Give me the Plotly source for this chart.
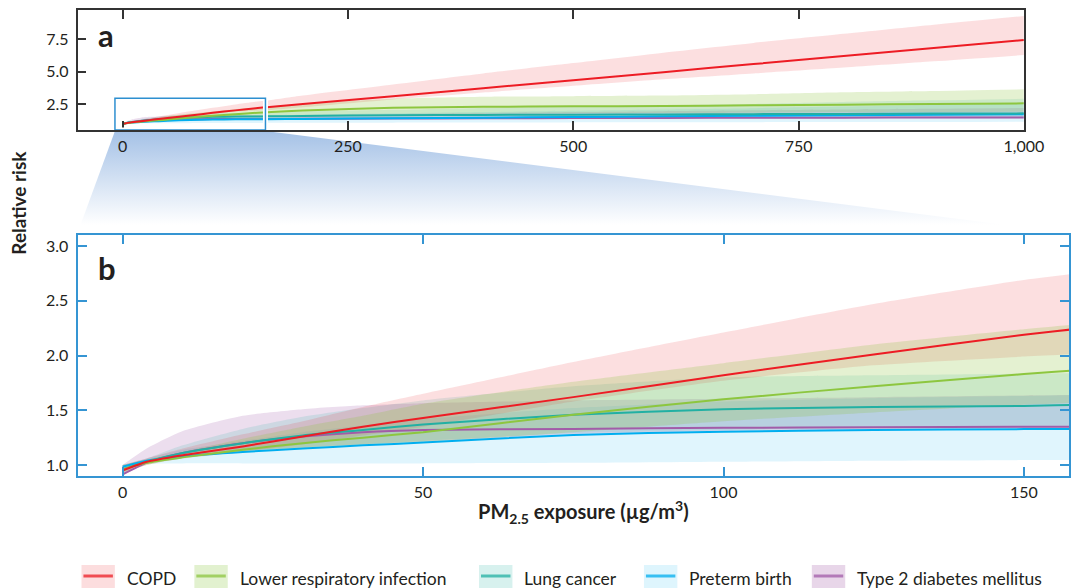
import plotly.graph_objects as go

W, H = 1090, 588

# ---------------- data ----------------
exposure = [0, 4, 10, 20, 30, 40, 50, 75, 100, 125, 150, 160, 200, 300, 400, 500, 600, 700, 800, 900, 1000]

copd_mean = [0.95, 1.03, 1.09, 1.17, 1.26, 1.35, 1.43, 1.62, 1.82, 2.01, 2.19, 2.25, 2.50, 3.10, 3.72, 4.33, 4.95, 5.57, 6.19, 6.80, 7.42]
copd_lo   = [0.92, 1.00, 1.06, 1.12, 1.19, 1.27, 1.35, 1.58, 1.77, 1.91, 1.99, 2.02, 2.25, 2.85, 3.38, 3.90, 4.40, 4.85, 5.30, 5.78, 6.27]
copd_hi   = [1.00, 1.06, 1.15, 1.28, 1.40, 1.53, 1.65, 1.94, 2.21, 2.47, 2.69, 2.76, 3.15, 4.00, 4.85, 5.65, 6.45, 7.20, 7.90, 8.60, 9.27]

lri_mean = [0.96, 1.02, 1.07, 1.14, 1.20, 1.25, 1.30, 1.46, 1.60, 1.72, 1.83, 1.87, 2.00, 2.22, 2.28, 2.32, 2.35, 2.40, 2.45, 2.50, 2.55]
lri_lo   = [0.93, 1.00, 1.07, 1.12, 1.155, 1.185, 1.21, 1.30, 1.40, 1.48, 1.55, 1.57, 1.62, 1.70, 1.74, 1.77, 1.80, 1.83, 1.86, 1.88, 1.90]
lri_hi   = [1.00, 1.05, 1.12, 1.24, 1.35, 1.45, 1.56, 1.76, 1.93, 2.10, 2.24, 2.29, 2.50, 2.90, 3.05, 3.10, 3.15, 3.25, 3.40, 3.50, 3.63]

lung_mean = [0.96, 1.03, 1.11, 1.20, 1.27, 1.32, 1.37, 1.46, 1.51, 1.53, 1.54, 1.55, 1.57, 1.64, 1.66, 1.68, 1.70, 1.72, 1.74, 1.76, 1.78]
lung_lo   = [0.93, 1.02, 1.08, 1.13, 1.16, 1.19, 1.22, 1.29, 1.32, 1.335, 1.34, 1.345, 1.37, 1.42, 1.44, 1.45, 1.46, 1.47, 1.48, 1.49, 1.50]
lung_hi   = [1.00, 1.06, 1.18, 1.33, 1.44, 1.52, 1.59, 1.72, 1.80, 1.82, 1.835, 1.84, 1.92, 2.05, 2.20, 2.30, 2.40, 2.50, 2.65, 2.78, 2.90]

preterm_mean = [0.985, 1.04, 1.08, 1.12, 1.15, 1.18, 1.205, 1.275, 1.305, 1.32, 1.328, 1.33, 1.35, 1.40, 1.45, 1.50, 1.55, 1.59, 1.63, 1.68, 1.72]
preterm_lo   = [0.97, 1.01, 1.015, 1.015, 1.015, 1.015, 1.015, 1.02, 1.03, 1.04, 1.045, 1.046, 1.05, 1.06, 1.07, 1.08, 1.09, 1.10, 1.11, 1.12, 1.14]
preterm_hi   = [1.00, 1.06, 1.14, 1.22, 1.30, 1.36, 1.42, 1.52, 1.58, 1.61, 1.63, 1.64, 1.68, 1.78, 1.88, 1.98, 2.08, 2.18, 2.30, 2.42, 2.55]

t2d_mean = [0.915, 1.02, 1.11, 1.20, 1.26, 1.30, 1.32, 1.33, 1.34, 1.345, 1.35, 1.35, 1.36, 1.38, 1.40, 1.42, 1.43, 1.44, 1.45, 1.46, 1.47]
t2d_lo   = [0.90, 1.02, 1.08, 1.13, 1.16, 1.19, 1.215, 1.28, 1.31, 1.325, 1.333, 1.335, 1.34, 1.35, 1.36, 1.37, 1.38, 1.385, 1.39, 1.395, 1.40]
t2d_hi   = [1.00, 1.15, 1.31, 1.45, 1.51, 1.545, 1.565, 1.59, 1.605, 1.62, 1.635, 1.64, 1.66, 1.72, 1.80, 1.88, 1.95, 2.02, 2.08, 2.14, 2.20]

series_names = ["COPD", "Lower respiratory infection", "Lung cancer", "Preterm birth", "Type 2 diabetes mellitus"]

top_xticks = [0, 250, 500, 750, 1000]
top_yticks = [2.5, 5.0, 7.5]
bot_xticks = [0, 50, 100, 150]
bot_yticks = [1.0, 1.5, 2.0, 2.5, 3.0]

# ---------------- styling ----------------
line_colors = ["#ed1c24", "#8dc63f", "#22b0a3", "#00aeef", "#a25ca8"]
fill_colors = ["rgba(237,28,36,0.14)", "rgba(141,198,63,0.24)", "rgba(34,176,163,0.15)",
               "rgba(0,174,239,0.12)", "rgba(162,92,168,0.20)"]
legend_fill = ["rgba(237,28,36,0.15)", "rgba(141,198,63,0.25)", "rgba(34,176,163,0.18)",
               "rgba(0,174,239,0.13)", "rgba(162,92,168,0.25)"]
series = {
    "COPD": (copd_mean, copd_lo, copd_hi),
    "Lower respiratory infection": (lri_mean, lri_lo, lri_hi),
    "Lung cancer": (lung_mean, lung_lo, lung_hi),
    "Preterm birth": (preterm_mean, preterm_lo, preterm_hi),
    "Type 2 diabetes mellitus": (t2d_mean, t2d_lo, t2d_hi),
}

FONT = "Lato, 'Open Sans', sans-serif"
TXT = "#231f20"
BLUE = "#3595d3"

# panel geometry (pixels)
top_l, top_r, top_t, top_b = 79, 1043, 10, 130
bot_l, bot_r, bot_t, bot_b = 79, 1089, 235, 476
top_xrange = [-50, 1000]
top_yrange = [0.5, 9.73]
bot_xrange = [-7.5, 157.5]
bot_yrange = [0.9, 3.1]
zoom_box = dict(x0=-8.5, x1=158.5, y0=0.5, y1=2.95)

fig = go.Figure()

# ---------------- connector gradient (drawn first, on a full-page overlay axis) ----------------
def top_px_x(v):
    return top_l + (v - top_xrange[0]) / (top_xrange[1] - top_xrange[0]) * (top_r - top_l)

cx = [top_px_x(zoom_box["x0"]), top_px_x(zoom_box["x1"]), bot_r, bot_l, top_px_x(zoom_box["x0"])]
cy_px = [top_b + 1, top_b + 1, bot_t - 2, bot_t - 2, top_b + 1]
cy = [H - v for v in cy_px]
fig.add_trace(go.Scatter(x=cx, y=cy, xaxis="x", yaxis="y", mode="lines",
                         line=dict(width=0), fill="toself",
                         fillgradient=dict(type="vertical",
                                           colorscale=[[0, "rgba(255,255,255,1)"], [0.08, "rgba(255,255,255,1)"],
                                                       [1, "rgb(164,193,230)"]]),
                         hoverinfo="skip", showlegend=False))

fill_order = [3, 4, 2, 0, 1]
line_order = [4, 3, 2, 1, 0]
for xa, ya in [("x2", "y2"), ("x3", "y3")]:
    for i in fill_order:
        name = series_names[i]
        mean, lo, hi = series[name]
        fig.add_trace(go.Scatter(x=exposure, y=lo, mode="lines", xaxis=xa, yaxis=ya,
                                 line=dict(width=0, shape="spline", smoothing=0.6),
                                 hoverinfo="skip", showlegend=False))
        fig.add_trace(go.Scatter(x=exposure, y=hi, mode="lines", xaxis=xa, yaxis=ya,
                                 line=dict(width=0, shape="spline", smoothing=0.6),
                                 fill="tonexty", fillcolor=fill_colors[i],
                                 hoverinfo="skip", showlegend=False))
    for i in line_order:
        name = series_names[i]
        mean, lo, hi = series[name]
        fig.add_trace(go.Scatter(x=exposure, y=mean, mode="lines", xaxis=xa, yaxis=ya, name=name,
                                 line=dict(color=line_colors[i], width=2, shape="spline", smoothing=0.6),
                                 showlegend=False))

axis_common = dict(showgrid=False, zeroline=False, ticks="inside", ticklen=9, tickwidth=1.5,
                   showline=True, tickfont=dict(family=FONT, size=16, color=TXT), fixedrange=True)

fig.update_layout(
    width=W, height=H, margin=dict(l=0, r=0, t=0, b=0),
    paper_bgcolor="white", plot_bgcolor="rgba(0,0,0,0)",
    showlegend=False,
    xaxis=dict(domain=[0, 1], range=[0, W], visible=False, fixedrange=True, anchor="y"),
    yaxis=dict(domain=[0, 1], range=[0, H], visible=False, fixedrange=True, anchor="x"),
    xaxis2=dict(axis_common, domain=[top_l / W, top_r / W], anchor="y2", range=top_xrange,
                tickvals=top_xticks, tickformat=",", linecolor="#333333", tickcolor="#333333",
                linewidth=1.5, mirror="ticks", ticklabelstandoff=1),
    yaxis2=dict(axis_common, domain=[1 - top_b / H, 1 - top_t / H], anchor="x2", range=top_yrange,
                tickvals=top_yticks, tickformat=".1f", linecolor="#333333", tickcolor="#333333",
                linewidth=1.5, mirror=True, ticklabelstandoff=4),
    xaxis3=dict(axis_common, domain=[bot_l / W, bot_r / W], anchor="y3", range=bot_xrange,
                tickvals=bot_xticks, linecolor=BLUE, tickcolor=BLUE, linewidth=2, mirror="ticks",
                ticklabelstandoff=1),
    yaxis3=dict(axis_common, domain=[1 - bot_b / H, 1 - bot_t / H], anchor="x3", range=bot_yrange,
                tickvals=bot_yticks, tickformat=".1f", linecolor=BLUE, tickcolor=BLUE, linewidth=2,
                mirror="ticks", ticklabelstandoff=4),
)

# zoom rectangle in panel a (white halo + blue outline)
fig.add_shape(type="rect", xref="x2", yref="y2", **zoom_box, line=dict(color="white", width=5), layer="above")
fig.add_shape(type="rect", xref="x2", yref="y2", **zoom_box, line=dict(color="#2d8fd0", width=1.5), layer="above")

# panel letters
fig.add_annotation(text="<b>a</b>", xref="paper", yref="paper", x=108 / W, y=1 - 35 / H,
                   showarrow=False, font=dict(family=FONT, size=31, color=TXT), xanchor="center", yanchor="middle")
fig.add_annotation(text="<b>b</b>", xref="paper", yref="paper", x=109 / W, y=1 - 268 / H,
                   showarrow=False, font=dict(family=FONT, size=31, color=TXT), xanchor="center", yanchor="middle")

# axis titles
fig.add_annotation(text="<b>Relative risk</b>", xref="paper", yref="paper", x=18 / W, y=1 - 203 / H,
                   textangle=-90, showarrow=False, font=dict(family=FONT, size=19, color=TXT),
                   xanchor="center", yanchor="middle")
fig.add_annotation(text="<b>PM<sub>2.5</sub> exposure (µg/m<sup>3</sup>)</b>", xref="paper", yref="paper",
                   x=594 / W, y=1 - 512 / H, showarrow=False, font=dict(family=FONT, size=20, color=TXT),
                   xanchor="center", yanchor="middle")

# custom legend
legend_x = [83, 198, 488, 656, 827]
for i, name in enumerate(series_names):
    x0 = legend_x[i]
    fig.add_shape(type="rect", xref="paper", yref="paper", x0=x0 / W, x1=(x0 + 34) / W,
                  y0=1 - 592 / H, y1=1 - 565 / H, line=dict(width=0), fillcolor=legend_fill[i],
                  layer="above")
    fig.add_shape(type="line", xref="paper", yref="paper", x0=(x0 + 2) / W, x1=(x0 + 32) / W,
                  y0=1 - 576 / H, y1=1 - 576 / H, line=dict(color=line_colors[i], width=3),
                  opacity=0.75, layer="above")
    fig.add_annotation(text=name, xref="paper", yref="paper", x=(x0 + 44) / W, y=1 - 578 / H,
                       showarrow=False, xanchor="left", yanchor="middle",
                       font=dict(family=FONT, size=17.5, color=TXT))

fig.write_html("out.html", config={"displayModeBar": False},
               post_script="document.body.style.margin='0px';document.body.style.overflow='hidden';")
